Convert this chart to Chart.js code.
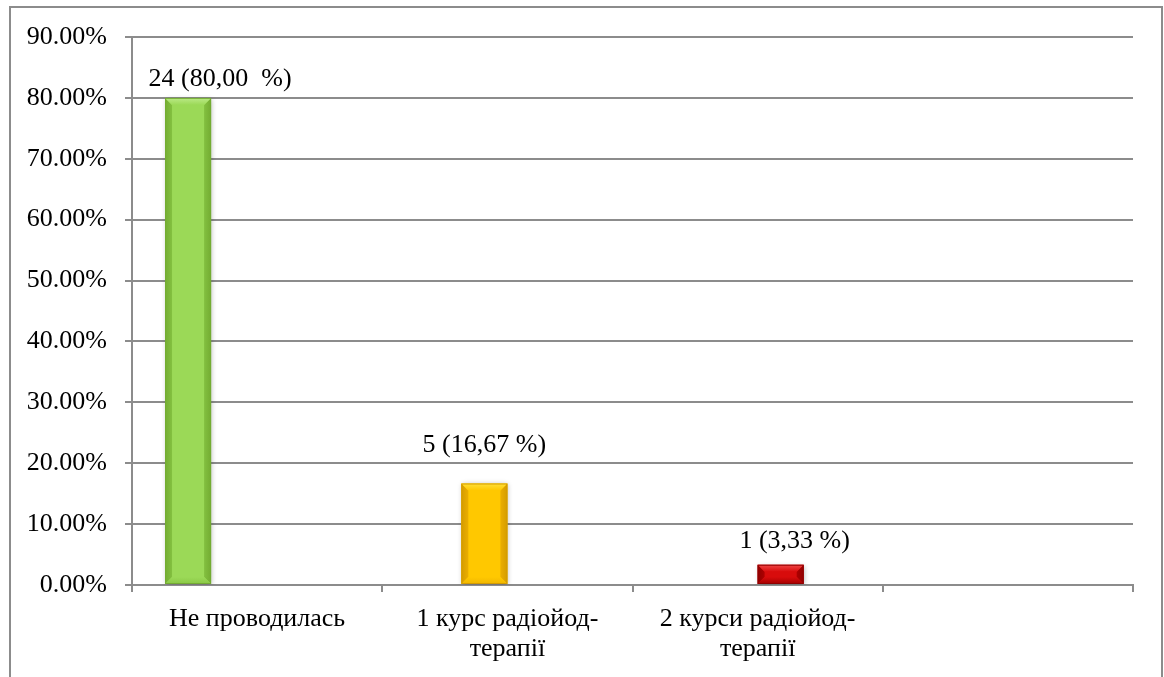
<!DOCTYPE html>
<html>
<head>
<meta charset="utf-8">
<script src="https://cdn.jsdelivr.net/npm/chart.js@4/dist/chart.umd.min.js"></script>
<style>
  html, body { margin: 0; padding: 0; background: #ffffff; }
  #wrap { width: 1164px; height: 677px; position: relative; }
</style>
</head>
<body>
<div id="wrap"><canvas id="chart" width="1164" height="677"></canvas></div>
<script>
// Categories (the fourth slot is left empty)
const categories = [
  'Не проводилась',
  ['1 курс радіойод-', 'терапії'],
  ['2 курси радіойод-', 'терапії'],
  ''
];
// Number of patients and share in percent for each category
const counts = [24, 5, 1];
const shares = [80.00, 16.67, 3.33];
// Value label text for each bar
const valueLabels = ['24 (80,00  %)', '5 (16,67 %)', '1 (3,33 %)'];
// Y axis range and step (percent)
const yMax = 90;
const yStep = 10;

// Bar palettes: face, top bevel, side bevel, bottom bevel, edge
const palettes = [
  { face: '#9BD957', top: '#BCEA88', side: '#83C040', bottom: '#8AC846', edge: '#74AC32' },
  { face: '#FFC800', top: '#FFE03A', side: '#EBAE00', bottom: '#F0B600', edge: '#D49C00' },
  { face: '#D80C0C', top: '#F04646', side: '#AE0000', bottom: '#A40000', edge: '#900000' }
];
// Label placement relative to the bar's top centre
const labelShift = [
  { dx: 32, dy: -12 },
  { dx: 0, dy: -31 },
  { dx: 14, dy: -17 }
];

const FONT = "'Liberation Serif', 'Times New Roman', serif";
Chart.defaults.font.family = FONT;
Chart.defaults.font.size = 26;
Chart.defaults.color = '#000000';

// One dataset per category, so each bar sits in its own slot of the group
const datasets = shares.map((v, i) => ({
  label: Array.isArray(categories[i]) ? categories[i].join(' ') : categories[i],
  data: categories.map((_, j) => (j === i ? v : null)),
  backgroundColor: palettes[i].face,
  borderWidth: 0,
  categoryPercentage: 0.736,
  barPercentage: 1.0
}));
datasets.push({
  label: 'empty',
  data: categories.map(() => null),
  backgroundColor: '#ffffff',
  categoryPercentage: 0.736,
  barPercentage: 1.0
});

const frame = {
  id: 'frame',
  beforeDraw(chart) {
    const c = chart.ctx;
    c.save();
    c.fillStyle = '#ffffff';
    c.fillRect(0, 0, chart.width, chart.height);
    c.strokeStyle = '#8c8c8c';
    c.lineWidth = 2;
    c.strokeRect(10, 7, 1152, 700);
    c.restore();
  }
};

const bevel = {
  id: 'bevel',
  beforeDatasetDraw(chart) {
    const c = chart.ctx;
    c.save();
    c.shadowColor = 'rgba(0,0,0,0.28)';
    c.shadowBlur = 5;
    c.shadowOffsetX = 1;
    c.shadowOffsetY = 1;
  },
  afterDatasetDraw(chart, args) {
    const c = chart.ctx;
    c.restore();
    const i = args.index;
    const p = palettes[i];
    if (!p) return;
    args.meta.data.forEach((el, j) => {
      if (j !== i) return;
      const { x, y, base, width } = el.getProps(['x', 'y', 'base', 'width'], true);
      const l = x - width / 2, r = x + width / 2, t = y, b = base;
      const h = b - t;
      const s = Math.min(7, h / 2, width / 2);
      const poly = (pts, fill) => {
        c.beginPath();
        c.moveTo(pts[0][0], pts[0][1]);
        for (let k = 1; k < pts.length; k++) c.lineTo(pts[k][0], pts[k][1]);
        c.closePath();
        c.fillStyle = fill;
        c.fill();
      };
      const hGrad = (x0, x1, c0, c1) => {
        const g = c.createLinearGradient(x0, 0, x1, 0);
        g.addColorStop(0, c0);
        g.addColorStop(1, c1);
        return g;
      };
      const vGrad = (y0, y1, c0, c1) => {
        const g = c.createLinearGradient(0, y0, 0, y1);
        g.addColorStop(0, c0);
        g.addColorStop(1, c1);
        return g;
      };
      c.save();
      poly([[l, t], [l + s, t + s], [l + s, b - s], [l, b]], hGrad(l, l + s, p.edge, p.side));
      poly([[r, t], [r - s, t + s], [r - s, b - s], [r, b]], hGrad(r, r - s, p.edge, p.side));
      poly([[l, b], [l + s, b - s], [r - s, b - s], [r, b]], vGrad(b, b - s, p.bottom, p.face));
      poly([[l, t], [r, t], [r - s, t + s], [l + s, t + s]], vGrad(t, t + s, p.top, p.face));
      c.strokeStyle = p.edge;
      c.lineWidth = 1;
      c.strokeRect(l + 0.5, t + 0.5, width - 1, h - 1);
      c.restore();
    });
  }
};

const valueText = {
  id: 'valueText',
  afterDatasetsDraw(chart) {
    const c = chart.ctx;
    c.save();
    c.font = '26px ' + FONT;
    c.fillStyle = '#000000';
    c.textAlign = 'center';
    c.textBaseline = 'alphabetic';
    shares.forEach((v, i) => {
      const el = chart.getDatasetMeta(i).data[i];
      const { x, y } = el.getProps(['x', 'y'], true);
      c.fillText(valueLabels[i], x + labelShift[i].dx, y + labelShift[i].dy);
    });
    c.restore();
  }
};

new Chart(document.getElementById('chart'), {
  type: 'bar',
  data: { labels: categories, datasets },
  options: {
    responsive: false,
    animation: false,
    devicePixelRatio: 1,
    layout: { padding: { left: 0, top: 37, right: 31, bottom: 0 } },
    plugins: {
      legend: { display: false },
      tooltip: { enabled: false }
    },
    scales: {
      x: {
        grid: {
          offset: true,
          drawOnChartArea: false,
          drawTicks: true,
          tickLength: 7,
          color: '#8c8c8c',
          lineWidth: 2
        },
        border: { color: '#8c8c8c', width: 2 },
        ticks: {
          padding: 12,
          maxRotation: 0,
          autoSkip: false,
          font: { size: 26, lineHeight: 1.15 }
        },
        afterFit(scale) { scale.height = 92; }
      },
      y: {
        min: 0,
        max: yMax,
        grid: {
          color: '#8c8c8c',
          lineWidth: 2,
          tickLength: 7
        },
        border: { color: '#8c8c8c', width: 2 },
        ticks: {
          stepSize: yStep,
          padding: 18,
          font: { size: 26 },
          callback: (v) => v.toFixed(2) + '%'
        },
        afterFit(scale) { scale.width = 132; }
      }
    }
  },
  plugins: [frame, bevel, valueText]
});
</script>
</body>
</html>
